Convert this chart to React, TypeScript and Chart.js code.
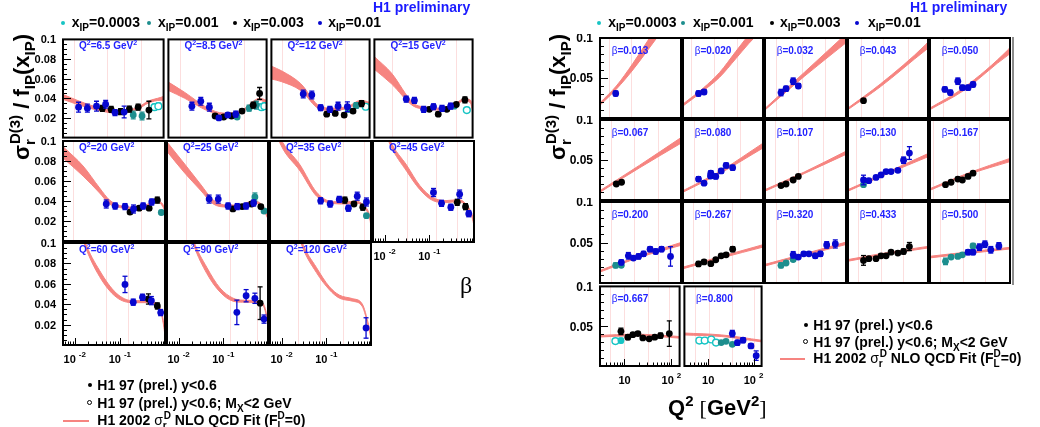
import React, { useEffect, useRef } from 'react';
import { Chart, registerables } from 'chart.js';

Chart.register(...registerables);

type P = [number, number, number, string]; // x, y, error, series code
type F = [number, number, number]; // x, band low, band high

// ---------------- legend / series ----------------
const xipValues = ['0.0003', '0.001', '0.003', '0.01'];
const seriesCodes = ['c', 't', 'k', 'b'];
const seriesColors: Record<string, string> = { c: '#17c4c4', co: '#17c4c4', t: '#1d8e8e', k: '#000000', b: '#0707cf' };
const FIT_COLOR = 'rgb(246,132,128)';
const VLINE_COLOR = '#fcdede';
const LABEL_BLUE = '#2323ff';

// ---------------- left block: sigma vs beta at fixed Q2 ----------------
const leftQ2 = ['6.5', '8.5', '12', '15', '20', '25', '35', '45', '60', '90', '120'];
const betaMin = 0.0055;
const betaMax = 1.0;
const leftYTicks = [0.02, 0.04, 0.06, 0.08, 0.1];
const leftYLabels = ['0.02', '0.04', '0.06', '0.08', '0.1'];
const leftXTicks: [number, string, string][] = [[0.01, '10', '-2'], [0.1, '10', '-1']];

const pQ6_5: P[] = [
  [0.0123, 0.031, 0.005, 'b'], [0.0194, 0.030, 0.004, 'b'], [0.0311, 0.032, 0.005, 'b'], [0.0499, 0.034, 0.004, 'b'], [0.081, 0.0255, 0.003, 'b'], [0.130, 0.026, 0.006, 'b'],
  [0.0421, 0.0297, 0.003, 'k'], [0.0663, 0.0287, 0.003, 'k'], [0.108, 0.0264, 0.003, 'k'], [0.170, 0.029, 0.003, 'k'], [0.268, 0.031, 0.003, 'k'], [0.468, 0.028, 0.009, 'k'],
  [0.208, 0.023, 0.004, 't'], [0.328, 0.022, 0.004, 't'],
  [0.624, 0.031, 0.003, 'co'], [0.763, 0.032, 0.003, 'co'],
];
const fQ6_5: F[] = [[0.0055, 0.039, 0.044], [0.013, 0.033, 0.037], [0.0356, 0.0275, 0.0305], [0.099, 0.0245, 0.0272], [0.268, 0.029, 0.031], [0.445, 0.035, 0.037], [0.87, 0.038, 0.041], [1.0, 0.038, 0.042]];
const vQ6_5 = [0.0096, 0.0533, 0.132, 0.303];

const pQ8_5: P[] = [
  [0.0191, 0.032, 0.004, 'b'], [0.0306, 0.037, 0.004, 'b'], [0.0482, 0.031, 0.004, 'b'], [0.0798, 0.020, 0.002, 'b'], [0.128, 0.023, 0.002, 'b'], [0.195, 0.024, 0.003, 'b'],
  [0.0653, 0.022, 0.002, 'k'], [0.103, 0.021, 0.002, 'k'], [0.156, 0.022, 0.002, 'k'], [0.272, 0.027, 0.002, 'k'], [0.492, 0.033, 0.003, 'k'], [0.690, 0.045, 0.006, 'k'],
  [0.210, 0.021, 0.002, 't'], [0.396, 0.030, 0.003, 't'], [0.581, 0.033, 0.004, 't'],
  [0.763, 0.031, 0.003, 'co'], [0.888, 0.032, 0.003, 'co'],
];
const fQ8_5: F[] = [[0.0055, 0.048, 0.0565], [0.0131, 0.040, 0.046], [0.0429, 0.0275, 0.0305], [0.101, 0.023, 0.025], [0.272, 0.026, 0.028], [0.53, 0.036, 0.038], [0.69, 0.038, 0.040], [1.0, 0.035, 0.038]];
const vQ8_5 = [0.0102, 0.303];

const pQ12: P[] = [
  [0.0297, 0.0444, 0.004, 'b'], [0.0468, 0.0434, 0.004, 'b'], [0.0748, 0.0304, 0.003, 'b'], [0.122, 0.0288, 0.003, 'b'], [0.188, 0.032, 0.004, 'b'], [0.308, 0.0314, 0.005, 'b'],
  [0.103, 0.0239, 0.002, 'k'], [0.162, 0.0246, 0.002, 'k'], [0.260, 0.0229, 0.002, 'k'], [0.416, 0.027, 0.002, 'k'], [0.656, 0.0346, 0.003, 'k'],
  [0.32, 0.029, 0.003, 't'], [0.492, 0.0327, 0.003, 't'],
  [0.814, 0.0314, 0.003, 'co'],
];
const fQ12: F[] = [[0.0055, 0.0597, 0.0727], [0.0094, 0.057, 0.068], [0.0259, 0.048, 0.055], [0.0711, 0.029, 0.032], [0.139, 0.0275, 0.030], [0.324, 0.030, 0.032], [0.633, 0.0355, 0.038], [1.0, 0.033, 0.036]];
const vQ12 = [0.0096, 0.0883, 0.274];

const pQ15: P[] = [
  [0.0297, 0.0392, 0.003, 'b'], [0.0458, 0.0379, 0.003, 'b'], [0.0748, 0.0288, 0.003, 'b'], [0.126, 0.0314, 0.003, 'b'], [0.198, 0.0298, 0.003, 'b'], [0.312, 0.032, 0.003, 'b'],
  [0.101, 0.0288, 0.002, 'k'], [0.162, 0.0239, 0.002, 'k'], [0.255, 0.0288, 0.002, 'k'], [0.422, 0.0337, 0.002, 'k'], [0.666, 0.0385, 0.003, 'k'],
  [0.38, 0.032, 0.002, 't'],
  [0.736, 0.028, 0.002, 'co'],
];
const fQ15: F[] = [[0.0055, 0.0695, 0.0824], [0.0134, 0.055, 0.066], [0.0436, 0.032, 0.035], [0.0857, 0.029, 0.031], [0.168, 0.028, 0.030], [0.328, 0.030, 0.032], [0.646, 0.0375, 0.0395], [0.9, 0.035, 0.038], [1.0, 0.027, 0.030]];
const vQ15 = [0.0143, 0.422];

const pQ20: P[] = [
  [0.0499, 0.037, 0.004, 'b'], [0.0787, 0.035, 0.003, 'b'], [0.130, 0.0344, 0.003, 'b'], [0.201, 0.032, 0.004, 'b'], [0.328, 0.035, 0.003, 'b'], [0.509, 0.039, 0.003, 'b'],
  [0.168, 0.0289, 0.002, 'k'], [0.268, 0.0328, 0.002, 'k'], [0.445, 0.0328, 0.002, 'k'], [0.676, 0.0409, 0.003, 'k'],
  [0.828, 0.0285, 0.002, 't'],
];
const fQ20: F[] = [[0.0055, 0.083, 0.0944], [0.0153, 0.065, 0.075], [0.0356, 0.048, 0.053], [0.059, 0.037, 0.041], [0.099, 0.0335, 0.0355], [0.191, 0.032, 0.034], [0.376, 0.034, 0.036], [0.624, 0.039, 0.041], [0.85, 0.036, 0.038], [1.0, 0.030, 0.033]];
const vQ20 = [0.009, 0.292];

const pQ25: P[] = [
  [0.0482, 0.0419, 0.004, 'b'], [0.0771, 0.0419, 0.004, 'b'], [0.128, 0.035, 0.003, 'b'], [0.205, 0.0344, 0.003, 'b'], [0.324, 0.035, 0.003, 'b'], [0.477, 0.038, 0.003, 'b'],
  [0.164, 0.0321, 0.002, 'k'], [0.264, 0.0344, 0.002, 'k'], [0.429, 0.037, 0.002, 'k'], [0.690, 0.0344, 0.002, 'k'],
  [0.509, 0.044, 0.004, 't'], [0.814, 0.030, 0.002, 't'],
];
const fQ25: F[] = [[0.0055, 0.0896, 0.099], [0.0131, 0.069, 0.078], [0.0306, 0.051, 0.057], [0.0598, 0.037, 0.041], [0.118, 0.034, 0.036], [0.231, 0.034, 0.036], [0.45, 0.038, 0.040], [0.745, 0.0335, 0.036], [1.0, 0.022, 0.025]];
const vQ25 = [0.0143, 0.134, 0.445];

const pQ35: P[] = [
  [0.0748, 0.0402, 0.003, 'b'], [0.122, 0.037, 0.003, 'b'], [0.195, 0.0416, 0.003, 'b'], [0.312, 0.0328, 0.003, 'b'], [0.492, 0.0448, 0.004, 'b'], [0.791, 0.039, 0.004, 'b'],
  [0.260, 0.0409, 0.003, 'k'], [0.416, 0.037, 0.002, 'k'], [0.656, 0.0338, 0.003, 'k'],
  [0.791, 0.0253, 0.002, 't'],
];
const fQ35: F[] = [[0.0055, 0.128, 0.132], [0.0094, 0.097, 0.103], [0.0259, 0.070, 0.076], [0.0601, 0.045, 0.049], [0.118, 0.038, 0.040], [0.274, 0.037, 0.039], [0.45, 0.038, 0.040], [0.69, 0.0335, 0.0355], [0.95, 0.021, 0.024], [1.0, 0.014, 0.017]];
const vQ35 = [0.0238, 0.0711, 0.231, 0.69];

const pQ45: P[] = [
  [0.124, 0.049, 0.004, 'b'], [0.188, 0.0383, 0.003, 'b'], [0.303, 0.0344, 0.003, 'b'], [0.477, 0.0474, 0.004, 'b'], [0.763, 0.028, 0.003, 'b'],
  [0.422, 0.0393, 0.003, 'k'], [0.646, 0.035, 0.003, 'k'],
];
const fQ45: F[] = [[0.0055, 0.143, 0.147], [0.0134, 0.096, 0.100], [0.0312, 0.070, 0.076], [0.0611, 0.052, 0.056], [0.120, 0.041, 0.044], [0.236, 0.039, 0.041], [0.46, 0.040, 0.042], [0.646, 0.036, 0.038], [0.91, 0.024, 0.027], [1.0, 0.016, 0.019]];
const vQ45 = [0.0312, 0.142, 0.422];

const pQ60: P[] = [
  [0.130, 0.0594, 0.008, 'b'], [0.198, 0.042, 0.003, 'b'], [0.317, 0.0468, 0.003, 'b'], [0.499, 0.0435, 0.004, 'b'], [0.802, 0.0318, 0.003, 'b'],
  [0.429, 0.0451, 0.005, 'k'], [0.676, 0.0383, 0.003, 'k'],
];
const fQ60: F[] = [[0.0055, 0.173, 0.177], [0.0167, 0.098, 0.102], [0.0356, 0.067, 0.073], [0.0827, 0.047, 0.051], [0.188, 0.0415, 0.0435], [0.382, 0.0415, 0.0435], [0.736, 0.0365, 0.0385], [0.948, 0.017, 0.020], [1.0, 0.008, 0.011]];
const vQ60 = [0.0482, 0.149];

const pQ90: P[] = [
  [0.201, 0.032, 0.012, 'b'], [0.324, 0.0483, 0.006, 'b'], [0.509, 0.0458, 0.005, 'b'], [0.814, 0.0254, 0.004, 'b'],
  [0.666, 0.041, 0.016, 'k'],
];
const fQ90: F[] = [[0.0055, 0.193, 0.197], [0.0218, 0.098, 0.102], [0.0429, 0.070, 0.076], [0.084, 0.052, 0.056], [0.164, 0.043, 0.046], [0.272, 0.042, 0.044], [0.633, 0.041, 0.043], [0.96, 0.0235, 0.0265], [1.0, 0.014, 0.017]];
const vQ90 = [0.139, 0.581];

const pQ120: P[] = [[0.775, 0.0167, 0.010, 'b']];
const fQ120: F[] = [[0.0055, 0.213, 0.217], [0.0282, 0.098, 0.102], [0.0601, 0.071, 0.076], [0.118, 0.054, 0.057], [0.195, 0.046, 0.049], [0.382, 0.043, 0.0455], [0.633, 0.038, 0.0405], [0.888, 0.0165, 0.0195], [1.0, 0.006, 0.009]];
const vQ120 = [0.0238, 0.0711, 0.231];

// ---------------- right block: sigma vs Q2 at fixed beta ----------------
const rightBeta = ['0.013', '0.020', '0.032', '0.043', '0.050', '0.067', '0.080', '0.107', '0.130', '0.167', '0.200', '0.267', '0.320', '0.433', '0.500', '0.667', '0.800'];
const q2Min = 3;
const q2Max = 150;
const rightYTicks = [0.05, 0.1];
const rightYLabels = ['0.05', '0.1'];
const rightXTicks: [number, string, string][] = [[10, '10', ''], [100, '10', '2']];

const pB013: P[] = [[6.4, 0.0306, 0.003, 'b']];
const fB013: F[] = [[3, 0.016, 0.019], [6.6, 0.036, 0.040], [14.6, 0.060, 0.068], [32, 0.087, 0.099], [45, 0.099, 0.113]];
const vB013 = [4.65, 13.5];
const pB020: P[] = [[6.4, 0.0306, 0.003, 'b'], [8.4, 0.0325, 0.003, 'b']];
const fB020: F[] = [[3, 0.015, 0.0175], [8.1, 0.034, 0.0375], [18, 0.051, 0.057], [39.5, 0.074, 0.083], [74.6, 0.093, 0.104], [100, 0.101, 0.114]];
const vB020 = [4.5, 13.6, 42.6];
const pB032: P[] = [[6.5, 0.0318, 0.004, 'b'], [8.3, 0.0367, 0.003, 'b'], [11.7, 0.046, 0.004, 'b'], [15, 0.040, 0.003, 'b']];
const fB032: F[] = [[3, 0.010, 0.012], [20, 0.052, 0.057], [150, 0.094, 0.105]];
const vB032 = [5.2, 17.5, 53.5];
const pB043: P[] = [[6.4, 0.0216, 0.002, 'k']];
const fB043: F[] = [[3, 0.0105, 0.0125], [14.6, 0.039, 0.0425], [135, 0.085, 0.092], [150, 0.087, 0.095]];
const vB043 = [5.6, 17, 56];
const pB050: P[] = [[6.2, 0.0358, 0.003, 'b'], [8.1, 0.0318, 0.003, 'b'], [11.7, 0.046, 0.004, 'b'], [14.6, 0.0379, 0.003, 'b'], [19.3, 0.0379, 0.003, 'b'], [24.6, 0.0419, 0.003, 'b']];
const fB050: F[] = [[3, 0.0105, 0.0125], [15.3, 0.034, 0.0375], [140, 0.079, 0.086], [150, 0.080, 0.088]];
const vB050 = [5.7, 17, 54];
const pB067: P[] = [[6.6, 0.020, 0.002, 'k'], [8.5, 0.0222, 0.002, 'k']];
const fB067: F[] = [[3, 0.0097, 0.0117], [20, 0.040, 0.0432], [150, 0.071, 0.078]];
const vB067 = [5.2, 15.8, 50];
const pB080: P[] = [[6.4, 0.0262, 0.003, 'b'], [8.4, 0.021, 0.002, 'b'], [11.7, 0.0335, 0.003, 'b'], [11.5, 0.030, 0.003, 'b'], [14.9, 0.0295, 0.003, 'b'], [19.4, 0.0363, 0.003, 'b'], [24.7, 0.0432, 0.003, 'b'], [34, 0.0404, 0.003, 'b']];
const fB080: F[] = [[3, 0.0097, 0.0117], [18, 0.033, 0.0356], [150, 0.065, 0.071]];
const vB080 = [5.2, 15.8, 48.6];
const pB107: P[] = [[6.5, 0.018, 0.002, 'k'], [8.3, 0.020, 0.002, 'k'], [11.7, 0.025, 0.002, 'k'], [15, 0.0295, 0.002, 'k']];
const fB107: F[] = [[3, 0.011, 0.013], [20, 0.033, 0.035], [150, 0.057, 0.061]];
const vB107 = [4.8, 15, 49];
const pB130: P[] = [[6.4, 0.0192, 0.002, 't'], [6.4, 0.025, 0.006, 'b'], [8.3, 0.0241, 0.002, 'b'], [11.8, 0.0282, 0.002, 'b'], [15.1, 0.0314, 0.002, 'b'], [19.3, 0.0355, 0.002, 'b'], [24.6, 0.0355, 0.002, 'b'], [34.4, 0.0371, 0.002, 'b'], [45.4, 0.0497, 0.004, 'b'], [60.4, 0.0587, 0.008, 'b']];
const fB130: F[] = [[3, 0.011, 0.013], [20, 0.0325, 0.0345], [150, 0.054, 0.058]];
const vB130 = [4.4, 14, 42];
const pB167: P[] = [[6.4, 0.0192, 0.002, 'k'], [8.4, 0.0222, 0.002, 'k'], [11.7, 0.0262, 0.002, 'k'], [14.6, 0.025, 0.002, 'k'], [19.3, 0.0295, 0.002, 'k'], [24.6, 0.0335, 0.002, 'k']];
const fB167: F[] = [[3, 0.0122, 0.0142], [20, 0.032, 0.034], [150, 0.048, 0.052]];
const vB167 = [3.4, 11, 33.6];
const pB200: P[] = [[6.4, 0.0218, 0.003, 't'], [8.4, 0.0218, 0.002, 't'], [8.4, 0.0255, 0.003, 'b'], [11.8, 0.0336, 0.004, 'b'], [15.1, 0.0308, 0.002, 'b'], [19.3, 0.0328, 0.003, 'b'], [24.6, 0.036, 0.003, 'b'], [33.7, 0.0418, 0.003, 'b'], [44.2, 0.0389, 0.003, 'b'], [58.7, 0.0418, 0.003, 'b'], [90.4, 0.0328, 0.012, 'b']];
const fB200: F[] = [[3, 0.0135, 0.0155], [20, 0.0315, 0.0335], [150, 0.0465, 0.050]];
const vB200 = [5.2, 15.8, 50];
const pB267: P[] = [[6.4, 0.0235, 0.003, 'k'], [8.4, 0.026, 0.002, 'k'], [11.7, 0.0239, 0.002, 'k'], [14.9, 0.0287, 0.002, 'k'], [19.4, 0.0336, 0.002, 'k'], [24.7, 0.0348, 0.002, 'k'], [34, 0.0418, 0.003, 'k']];
const fB267: F[] = [[3, 0.0176, 0.0196], [20, 0.031, 0.033], [150, 0.0443, 0.0473]];
const vB267 = [4.8, 10.5, 33];
const pB320: P[] = [[6.5, 0.0218, 0.003, 't'], [8.3, 0.0247, 0.002, 't'], [11.7, 0.029, 0.002, 't'], [11.7, 0.0348, 0.004, 'b'], [15, 0.032, 0.002, 'b'], [19.5, 0.036, 0.002, 'b'], [25, 0.036, 0.002, 'b'], [34, 0.0336, 0.003, 'b'], [43.6, 0.036, 0.003, 'b'], [59, 0.047, 0.004, 'b'], [89.5, 0.0482, 0.005, 'b']];
const fB320: F[] = [[3, 0.021, 0.023], [20, 0.034, 0.036], [150, 0.0475, 0.0505]];
const vB320 = [5, 15, 45];
const pB433: P[] = [[6.4, 0.0279, 0.006, 'k'], [8.3, 0.030, 0.002, 'k'], [11.8, 0.030, 0.002, 'k'], [15.1, 0.0336, 0.002, 'k'], [19.3, 0.0336, 0.002, 'k'], [24.6, 0.038, 0.002, 'k'], [34.4, 0.0369, 0.002, 'k'], [45.4, 0.0389, 0.003, 'k'], [60.4, 0.045, 0.005, 'k']];
const fB433: F[] = [[3, 0.0269, 0.0289], [20, 0.0355, 0.0375], [150, 0.0432, 0.0452]];
const vB433 = [5, 15, 45];
const pB500: P[] = [[6.4, 0.0267, 0.004, 't'], [8.4, 0.032, 0.002, 't'], [11.7, 0.0328, 0.002, 't'], [14.6, 0.0348, 0.002, 't'], [24.6, 0.0458, 0.003, 't'], [19.3, 0.038, 0.003, 'b'], [24.6, 0.038, 0.003, 'b'], [33.6, 0.0442, 0.004, 'b'], [44, 0.0479, 0.004, 'b'], [58.7, 0.041, 0.004, 'b'], [87, 0.0458, 0.004, 'b']];
const fB500: F[] = [[3, 0.031, 0.033], [20, 0.0365, 0.0385], [150, 0.042, 0.044]];
const vB500 = [5, 15, 45];
const pB667: P[] = [[6.4, 0.0313, 0.003, 'co'], [8.4, 0.032, 0.003, 'c'], [8.4, 0.0435, 0.004, 'k'], [11.8, 0.0362, 0.003, 'k'], [15.1, 0.0394, 0.002, 'k'], [19.3, 0.0407, 0.002, 'k'], [24.6, 0.0353, 0.002, 'k'], [33.7, 0.0341, 0.002, 'k'], [44.2, 0.0362, 0.002, 'k'], [58.7, 0.0382, 0.003, 'k'], [90.4, 0.0407, 0.016, 'k']];
const fB667: F[] = [[3, 0.0364, 0.0384], [15, 0.038, 0.040], [50, 0.037, 0.039], [150, 0.035, 0.037]];
const vB667 = [4.8, 9.9, 32, 90];
const pB800: P[] = [[6.4, 0.032, 0.003, 'co'], [8.4, 0.032, 0.003, 'co'], [11.7, 0.0333, 0.003, 'co'], [14.9, 0.0294, 0.002, 'co'], [19.4, 0.0294, 0.002, 't'], [24.7, 0.031, 0.002, 't'], [34, 0.0272, 0.002, 't'], [34, 0.0407, 0.004, 'b'], [44, 0.0293, 0.003, 'b'], [58.5, 0.0325, 0.003, 'b'], [87.5, 0.0252, 0.003, 'b'], [114, 0.013, 0.006, 'b']];
const fB800: F[] = [[3, 0.039, 0.0414], [20, 0.037, 0.039], [150, 0.0303, 0.0323]];
const vB800 = [5.1, 10.4, 33, 100];

// ---------------- legend texts ----------------
const legendData = 'H1 97 (prel.) y<0.6';
const legendDataMx = ['H1 97 (prel.) y<0.6; M', 'X', '<2 GeV'];
const legendFit = ['H1 2002 ', 'NLO QCD Fit (F', '=0)'];

const leftPanelsData = [
  { pts: pQ6_5, fit: fQ6_5, vl: vQ6_5 }, { pts: pQ8_5, fit: fQ8_5, vl: vQ8_5 }, { pts: pQ12, fit: fQ12, vl: vQ12 }, { pts: pQ15, fit: fQ15, vl: vQ15 },
  { pts: pQ20, fit: fQ20, vl: vQ20 }, { pts: pQ25, fit: fQ25, vl: vQ25 }, { pts: pQ35, fit: fQ35, vl: vQ35 }, { pts: pQ45, fit: fQ45, vl: vQ45 },
  { pts: pQ60, fit: fQ60, vl: vQ60 }, { pts: pQ90, fit: fQ90, vl: vQ90 }, { pts: pQ120, fit: fQ120, vl: vQ120 },
];
const rightPanelsData = [
  { pts: pB013, fit: fB013, vl: vB013 }, { pts: pB020, fit: fB020, vl: vB020 }, { pts: pB032, fit: fB032, vl: vB032 }, { pts: pB043, fit: fB043, vl: vB043 }, { pts: pB050, fit: fB050, vl: vB050 },
  { pts: pB067, fit: fB067, vl: vB067 }, { pts: pB080, fit: fB080, vl: vB080 }, { pts: pB107, fit: fB107, vl: vB107 }, { pts: pB130, fit: fB130, vl: vB130 }, { pts: pB167, fit: fB167, vl: vB167 },
  { pts: pB200, fit: fB200, vl: vB200 }, { pts: pB267, fit: fB267, vl: vB267 }, { pts: pB320, fit: fB320, vl: vB320 }, { pts: pB433, fit: fB433, vl: vB433 }, { pts: pB500, fit: fB500, vl: vB500 },
  { pts: pB667, fit: fB667, vl: vB667 }, { pts: pB800, fit: fB800, vl: vB800 },
];

// ---------------- layout ----------------
const FF = '"Liberation Sans", Arial, Helvetica, sans-serif';
const SERIF = '"Liberation Serif", "Times New Roman", serif';
const LX = [63, 166, 269, 372, 475];
const LY = [37, 140, 242, 345];
const RX = [600, 682, 764, 847, 929, 1011];
const RY = [37, 119, 201, 284, 366];

type Cfg = {
  x: number; y: number; w: number; h: number;
  padL: number; padR: number; padT: number; padB: number;
  xMin: number; xMax: number;
  pts: P[]; fit: F[]; vl: number[];
  label: [string, string][]; lx: number; ly: number;
  yAx: null | { ticks: number[]; labels: string[]; minor: number; fs: number };
  xAx: null | { labels: [number, string, string][] };
};

function drawParts(ctx: CanvasRenderingContext2D, parts: [string, string][], x: number, y: number, fs: number) {
  let cx = x;
  for (const [t, k] of parts) {
    if (k === 's') {
      ctx.font = `bold ${Math.round(fs * 0.7)}px ${FF}`;
      ctx.fillText(t, cx, y - fs * 0.42);
    } else if (k === 'g') {
      ctx.font = `${fs}px ${FF}`;
      ctx.fillText(t, cx, y);
    } else {
      ctx.font = `bold ${fs}px ${FF}`;
      ctx.fillText(t, cx, y);
    }
    cx += ctx.measureText(t).width;
  }
}

function line(ctx: CanvasRenderingContext2D, x1: number, y1: number, x2: number, y2: number) {
  ctx.beginPath();
  ctx.moveTo(x1, y1);
  ctx.lineTo(x2, y2);
  ctx.stroke();
}

function Panel({ cfg }: { cfg: Cfg }) {
  const ref = useRef<HTMLCanvasElement>(null);
  const W = cfg.w + cfg.padL + cfg.padR;
  const H = cfg.h + cfg.padT + cfg.padB;
  useEffect(() => {
    const datasets: any[] = [];
    for (const g of ['b', 'k', 't', 'c', 'co']) {
      const d = cfg.pts.filter((p) => p[3] === g).map((p) => ({ x: p[0], y: p[1], e: p[2] }));
      if (!d.length) continue;
      const col = seriesColors[g];
      datasets.push({
        type: 'scatter', data: d, order: 1, errColor: col, showLine: false,
        pointRadius: 3.4, pointStyle: 'circle',
        pointBackgroundColor: g === 'co' ? '#ffffff' : col,
        pointBorderColor: col, pointBorderWidth: g === 'co' ? 1.4 : 0,
      });
    }
    datasets.push({
      type: 'line', data: cfg.fit.map((f) => ({ x: f[0], y: f[1] })), order: 5,
      borderColor: FIT_COLOR, borderWidth: 1, pointRadius: 0, fill: false, cubicInterpolationMode: 'monotone',
    });
    datasets.push({
      type: 'line', data: cfg.fit.map((f) => ({ x: f[0], y: f[2] })), order: 5,
      borderColor: FIT_COLOR, borderWidth: 1, pointRadius: 0, fill: '-1', backgroundColor: FIT_COLOR, cubicInterpolationMode: 'monotone',
    });

    const deco = {
      id: 'deco',
      beforeDatasetsDraw(chart: any) {
        const { ctx, chartArea: a, scales } = chart;
        ctx.save();
        ctx.strokeStyle = VLINE_COLOR;
        ctx.lineWidth = 1;
        for (const v of cfg.vl) {
          const px = Math.round(scales.x.getPixelForValue(v)) + 0.5;
          line(ctx, px, a.top, px, a.bottom);
        }
        ctx.restore();
      },
      beforeDatasetDraw(chart: any, args: any) {
        const ds = chart.data.datasets[args.index];
        if (!ds.errColor) return;
        const { ctx, chartArea: a, scales } = chart;
        ctx.save();
        ctx.beginPath();
        ctx.rect(a.left, a.top, a.right - a.left, a.bottom - a.top);
        ctx.clip();
        ctx.strokeStyle = ds.errColor;
        ctx.lineWidth = 1.3;
        args.meta.data.forEach((el: any, j: number) => {
          const d = ds.data[j];
          const t = scales.y.getPixelForValue(d.y + d.e);
          const b = scales.y.getPixelForValue(d.y - d.e);
          line(ctx, el.x, t, el.x, b);
          line(ctx, el.x - 2.5, t, el.x + 2.5, t);
          line(ctx, el.x - 2.5, b, el.x + 2.5, b);
        });
        ctx.restore();
      },
      afterDatasetsDraw(chart: any) {
        const { ctx, chartArea: a, scales } = chart;
        ctx.save();
        ctx.strokeStyle = '#000';
        ctx.lineWidth = 1;
        if (cfg.yAx) {
          const ax = cfg.yAx;
          for (let v = ax.minor; v < 0.1 - 1e-9; v += ax.minor) {
            const py = Math.round(scales.y.getPixelForValue(v)) + 0.5;
            line(ctx, a.left, py, a.left + 4, py);
          }
          for (const v of ax.ticks) {
            const py = Math.round(scales.y.getPixelForValue(v)) + 0.5;
            line(ctx, a.left, py, a.left + 8, py);
          }
          ctx.fillStyle = '#000';
          ctx.font = `bold ${ax.fs}px ${FF}`;
          ctx.textAlign = 'right';
          ctx.textBaseline = 'middle';
          ax.ticks.forEach((v, i) => {
            ctx.fillText(ax.labels[i], a.left - 7, scales.y.getPixelForValue(v) + 1);
          });
        }
        if (cfg.xAx) {
          const e0 = Math.floor(Math.log10(cfg.xMin));
          const e1 = Math.ceil(Math.log10(cfg.xMax));
          for (let e = e0; e <= e1; e++) {
            for (let m = 1; m <= 9; m++) {
              const v = m * Math.pow(10, e);
              if (v <= cfg.xMin || v >= cfg.xMax) continue;
              const px = Math.round(scales.x.getPixelForValue(v)) + 0.5;
              line(ctx, px, a.bottom, px, a.bottom - (m === 1 ? 7 : 3.5));
            }
          }
          ctx.fillStyle = '#000';
          ctx.textAlign = 'left';
          ctx.textBaseline = 'alphabetic';
          for (const [v, base, sup] of cfg.xAx.labels) {
            ctx.font = `bold 11px ${FF}`;
            const wb = ctx.measureText(base).width;
            ctx.font = `bold 8px ${FF}`;
            const ws = sup ? ctx.measureText(sup).width + 3 : 0;
            const px = scales.x.getPixelForValue(v);
            const x0 = px - (wb + ws) / 2;
            ctx.font = `bold 11px ${FF}`;
            ctx.fillText(base, x0, a.bottom + 18);
            if (sup) {
              ctx.font = `bold 8px ${FF}`;
              ctx.fillText(sup, x0 + wb + 3, a.bottom + 12);
            }
          }
        }
        // frame
        ctx.lineWidth = 2;
        ctx.strokeRect(a.left, a.top, a.right - a.left, a.bottom - a.top);
        // panel label
        ctx.fillStyle = LABEL_BLUE;
        ctx.textAlign = 'left';
        ctx.textBaseline = 'alphabetic';
        drawParts(ctx, cfg.label, a.left + cfg.lx, a.top + cfg.ly, 10);
        ctx.restore();
      },
    };

    const chart = new Chart(ref.current as HTMLCanvasElement, {
      type: 'scatter',
      data: { datasets },
      options: {
        animation: false,
        responsive: false,
        devicePixelRatio: 1,
        events: [],
        layout: { padding: { left: cfg.padL, right: cfg.padR, top: cfg.padT, bottom: cfg.padB } },
        plugins: { legend: { display: false }, tooltip: { enabled: false } },
        scales: {
          x: { type: 'logarithmic', min: cfg.xMin, max: cfg.xMax, display: false },
          y: { type: 'linear', min: 0, max: 0.1, display: false },
        },
      } as any,
      plugins: [deco as any],
    } as any);
    return () => chart.destroy();
  }, []);
  return (
    <canvas
      ref={ref}
      width={W}
      height={H}
      style={{ position: 'absolute', left: cfg.x - cfg.padL, top: cfg.y - cfg.padT, width: W, height: H }}
    />
  );
}

function buildLeft(): Cfg[] {
  return leftPanelsData.map((d, i) => {
    const col = i % 4;
    const row = Math.floor(i / 4);
    const hasX = row === 2 || i === 7;
    return {
      x: LX[col], y: LY[row], w: LX[col + 1] - LX[col], h: LY[row + 1] - LY[row],
      padL: col === 0 ? 60 : 3, padR: 3, padT: 3, padB: hasX ? 28 : 3,
      xMin: betaMin, xMax: betaMax,
      pts: d.pts, fit: d.fit, vl: d.vl,
      label: [['Q', 'n'], ['2', 's'], ['=' + leftQ2[i] + ' GeV', 'n'], ['2', 's']],
      lx: 16, ly: 10,
      yAx: col === 0 ? { ticks: leftYTicks, labels: leftYLabels, minor: 0.005, fs: 11 } : null,
      xAx: hasX ? { labels: leftXTicks } : null,
    };
  });
}

function buildRight(): Cfg[] {
  return rightPanelsData.map((d, i) => {
    const col = i % 5;
    const row = Math.floor(i / 5);
    const hasX = row === 3;
    return {
      x: RX[col], y: RY[row], w: RX[col + 1] - RX[col], h: RY[row + 1] - RY[row],
      padL: col === 0 ? 60 : 3, padR: 3, padT: 3, padB: hasX ? 28 : 3,
      xMin: q2Min, xMax: q2Max,
      pts: d.pts, fit: d.fit, vl: d.vl,
      label: [['β', 'g'], ['=' + rightBeta[i], 'n']],
      lx: 11.7, ly: 16,
      yAx: col === 0 ? { ticks: rightYTicks, labels: rightYLabels, minor: 0.01, fs: 12 } : null,
      xAx: hasX ? { labels: rightXTicks } : null,
    };
  });
}

function Txt(props: any) {
  const { x, y, fs, bold = true, color = '#000', family = FF, children } = props;
  return (
    <div style={{ position: 'absolute', left: x, top: y - 0.85 * fs, fontSize: fs, lineHeight: 1, fontWeight: bold ? 700 : 400, color, fontFamily: family, whiteSpace: 'nowrap' }}>
      {children}
    </div>
  );
}
const Sub = ({ c, fs, dy = 0.28, ml = 0 }: any) => (
  <span style={{ fontSize: Math.round(fs * 0.7), position: 'relative', top: fs * dy, marginLeft: ml }}>{c}</span>
);
const Sup = ({ c, fs, dy = -0.42, ml = 0 }: any) => (
  <span style={{ fontSize: Math.round(fs * 0.7), position: 'relative', top: fs * dy, marginLeft: ml }}>{c}</span>
);
function Dot({ x, y, r, color, open = false }: any) {
  return (
    <div style={{ position: 'absolute', left: x - r, top: y - r, width: 2 * r, height: 2 * r, borderRadius: '50%', boxSizing: 'border-box', background: open ? '#fff' : color, border: open ? `1px solid ${color}` : 'none' }} />
  );
}

function YTitle({ cx, cy }: any) {
  const fs = 22;
  return (
    <div style={{ position: 'absolute', left: cx, top: cy, transform: 'translate(-50%,-50%) rotate(-90deg)', fontSize: fs, lineHeight: 1, fontWeight: 700, fontFamily: FF, whiteSpace: 'nowrap' }}>
      σ<span style={{ fontSize: 15, position: 'relative', top: 6 }}>r</span>
      <span style={{ fontSize: 15, position: 'relative', top: -9, marginLeft: -5 }}>D(3)</span> / f
      <Sub c="IP" fs={fs} />(x<Sub c="IP" fs={fs} />)
    </div>
  );
}

function TopLegend({ dots, texts }: any) {
  const fs = 14;
  return (
    <>
      {xipValues.map((v, i) => (
        <React.Fragment key={v}>
          <Dot x={dots[i]} y={22.5} r={2} color={seriesColors[seriesCodes[i]]} />
          <Txt x={texts[i]} y={27} fs={fs}>
            x<Sub c="IP" fs={fs} />={v}
          </Txt>
        </React.Fragment>
      ))}
    </>
  );
}

function BottomLegend({ lx, tx, y0, dy }: any) {
  const fs = 14;
  return (
    <>
      <Dot x={tx - 7.5} y={y0 - 5} r={2} color="#000" />
      <Txt x={tx} y={y0} fs={fs}>{legendData}</Txt>
      <Dot x={tx - 7.5} y={y0 + dy - 5} r={2.6} color="#000" open />
      <Txt x={tx} y={y0 + dy} fs={fs}>
        {legendDataMx[0]}<Sub c={legendDataMx[1]} fs={fs} />{legendDataMx[2]}
      </Txt>
      <div style={{ position: 'absolute', left: lx, top: y0 + 2 * dy - 5, width: tx - 8 - lx, height: 2, background: FIT_COLOR }} />
      <Txt x={tx} y={y0 + 2 * dy} fs={fs}>
        {legendFit[0]}<span style={{ fontWeight: 400 }}>σ</span>
        <span style={{ fontSize: 10, position: 'relative', top: 4 }}>r</span>
        <span style={{ fontSize: 10, position: 'relative', top: -6, marginLeft: -3 }}>D</span>{' '}
        {legendFit[1]}
        <span style={{ fontSize: 10, position: 'relative', top: 4 }}>L</span>
        <span style={{ fontSize: 10, position: 'relative', top: -6, marginLeft: -6 }}>D</span>
        {legendFit[2]}
      </Txt>
    </>
  );
}

export default function App() {
  const left = buildLeft();
  const right = buildRight();
  return (
    <div style={{ position: 'absolute', left: 0, top: 0, width: 1040, height: 427, overflow: 'hidden', background: '#fff', fontFamily: FF }}>
      {left.map((c, i) => <Panel key={'l' + i} cfg={c} />)}
      {right.map((c, i) => <Panel key={'r' + i} cfg={c} />)}

      <div style={{ position: 'absolute', left: 1012, top: 37, width: 2, height: 248, background: '#8c8c8c' }} />

      <Txt x={373} y={12} fs={14} color="#1a1aff">H1 preliminary</Txt>
      <Txt x={910} y={12} fs={14} color="#1a1aff">H1 preliminary</Txt>

      <TopLegend dots={[63.3, 149.3, 235, 320]} texts={[71.7, 158, 243.3, 328.3]} />
      <TopLegend dots={[599.3, 683.3, 771.7, 856.7]} texts={[608.3, 693, 780, 868]} />

      <YTitle cx={22} cy={97} />
      <YTitle cx={558} cy={97} />

      <Txt x={460} y={293} fs={24} bold={false} family={SERIF}>β</Txt>

      <Txt x={668} y={416} fs={22}>
        Q<Sup c="2" fs={22} /> <span style={{ fontFamily: SERIF, fontWeight: 400 }}>[</span>GeV<Sup c="2" fs={22} />
        <span style={{ fontFamily: SERIF, fontWeight: 400 }}>]</span>
      </Txt>

      <BottomLegend lx={63} tx={97.3} y0={390} dy={17.5} />
      <BottomLegend lx={780} tx={813.3} y0={330} dy={16.5} />
    </div>
  );
}
